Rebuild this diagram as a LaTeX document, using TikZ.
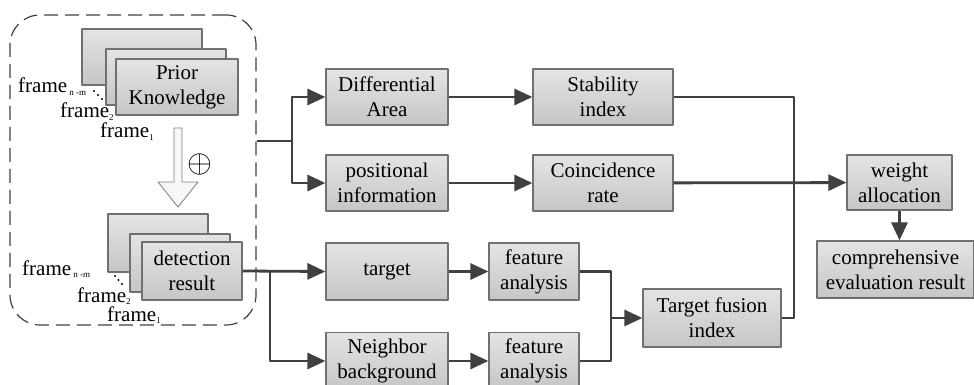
\documentclass[tikz,border=0pt]{standalone}
\usepackage{fontspec}
\setmainfont{Liberation Serif}
\usetikzlibrary{arrows.meta}
\tikzset{
  every picture/.style={line join=round, >=Stealth},
  blk/.style={draw=boxline, line width=1.2pt, top color=boxtop, bottom color=boxbot,
    align=center, inner sep=0pt, minimum height=56pt, font=\fontsize{21}{25}\selectfont},
  line/.style={draw=linegray, line width=2.8pt},
  conn/.style={line, -{Triangle[length=18pt,width=16pt]}},
  lbl/.style={anchor=base west, inner sep=0pt, font=\fontsize{21}{25}\selectfont},
  dot/.style={fill=black, radius=1.1pt},
}
\definecolor{boxline}{HTML}{707070}
\definecolor{boxtop}{HTML}{E4E4E4}
\definecolor{boxbot}{HTML}{C6C6C6}
\definecolor{linegray}{HTML}{404040}
\newcommand{\sub}[1]{\raisebox{-2pt}{\fontsize{9}{9}\selectfont #1}}

\begin{document}
\begin{tikzpicture}[x=1pt,y=-1pt]
\useasboundingbox (0,0) rectangle (974,385);
% dashed group on the left
\node[draw=darkgray, line width=1.2pt, dash pattern=on 14pt off 7pt, rounded corners=30pt,
  minimum width=246pt, minimum height=310pt, inner sep=0pt] (grp) at (133,170) {};
% prior knowledge frames
\node[blk, minimum width=120pt] (pk3) at (142,57) {};
\node[blk, minimum width=120pt] (pk2) at (166,77) {};
\node[blk, minimum width=122pt] (pk1) at (177,87) {Prior\\Knowledge};
\node[lbl] (fa3) at (18,93) {frame\sub{ n -m}};
\node[lbl] (fa2) at (60,118) {frame\sub{2}};
\node[lbl] (fa1) at (100,138) {frame\sub{1}};
\foreach \p in {(94,91),(98,95),(102,99)} \fill[dot] \p circle;
% arrow and operator
\draw[draw=gray, fill=gray!6, line width=0.8pt] (174,128) -- (182,128) -- (182,182) -- (198,182)
  -- (178,207) -- (158,182) -- (174,182) -- cycle;
\node[inner sep=0pt] (op) at (200,164) {\scalebox{3.2}{$\oplus$}};
% detection result frames
\node[blk, minimum width=100pt, minimum height=58pt] (dr3) at (158,243) {};
\node[blk, minimum width=100pt, minimum height=58pt] (dr2) at (180,263) {};
\node[blk, minimum width=100pt, minimum height=58pt] (dr1) at (192,271) {detection\\result};
\node[lbl] (fb3) at (22,275) {frame\sub{ n -m}};
\node[lbl] (fb2) at (77,302) {frame\sub{2}};
\node[lbl] (fb1) at (107,321) {frame\sub{1}};
\foreach \p in {(115,276),(118.5,280),(122,284)} \fill[dot] \p circle;
% upper branch
\node[blk, minimum width=122pt] (diff) at (387,97) {Differential\\Area};
\node[blk, minimum width=122pt] (pos) at (387,183) {positional\\information};
\node[blk, minimum width=140pt] (stab) at (603,97) {Stability\\index};
\node[blk, minimum width=140pt] (coin) at (603,183) {Coincidence\\rate};
% lower branch
\node[blk, minimum width=122pt, minimum height=57pt] (tgt) at (387,271.5) {target};
\node[blk, minimum width=122pt, minimum height=57pt] (nbg) at (387,361) {Neighbor\\background};
\node[blk, minimum width=90pt, minimum height=57pt] (fe1) at (534,271.5) {feature\\analysis};
\node[blk, minimum width=90pt, minimum height=57pt] (fe2) at (534,361) {feature\\analysis};
\node[blk, minimum width=138pt, minimum height=58pt] (fus) at (712,318) {Target fusion\\index};
% right side
\node[blk, minimum width=105pt, minimum height=55pt] (wgt) at (899.5,182.5) {weight\\allocation};
\node[blk, minimum width=157pt, minimum height=57pt] (res) at (895.5,269.5) {comprehensive\\evaluation result};
% connectors
\coordinate (s1) at (292,141);
\coordinate (s2) at (270,271);
\coordinate (j1) at (611,318);
\coordinate (j2) at (794,318);
\draw[line] (grp.east |- s1) -- (s1);
\draw[conn] (s1) |- (diff.west);
\draw[conn] (s1) |- (pos.west);
\draw[conn] (diff) -- (stab);
\draw[conn] (pos) -- (coin);
\draw[conn] (dr1.east) -- (tgt.west);
\draw[conn] (s2) |- (nbg.west);
\draw[conn] (tgt) -- (fe1);
\draw[conn] (nbg) -- (fe2);
\draw[line] (fe1.east) -| (j1);
\draw[line] (fe2.east) -| (j1);
\draw[conn] (j1) -- (fus.west);
\draw[line] (stab.east) -| (j2) -- (fus.east);
\draw[conn] (coin) -- (wgt);
\draw[conn] (wgt.south) -- (wgt.south |- res.north);
\end{tikzpicture}
\end{document}
